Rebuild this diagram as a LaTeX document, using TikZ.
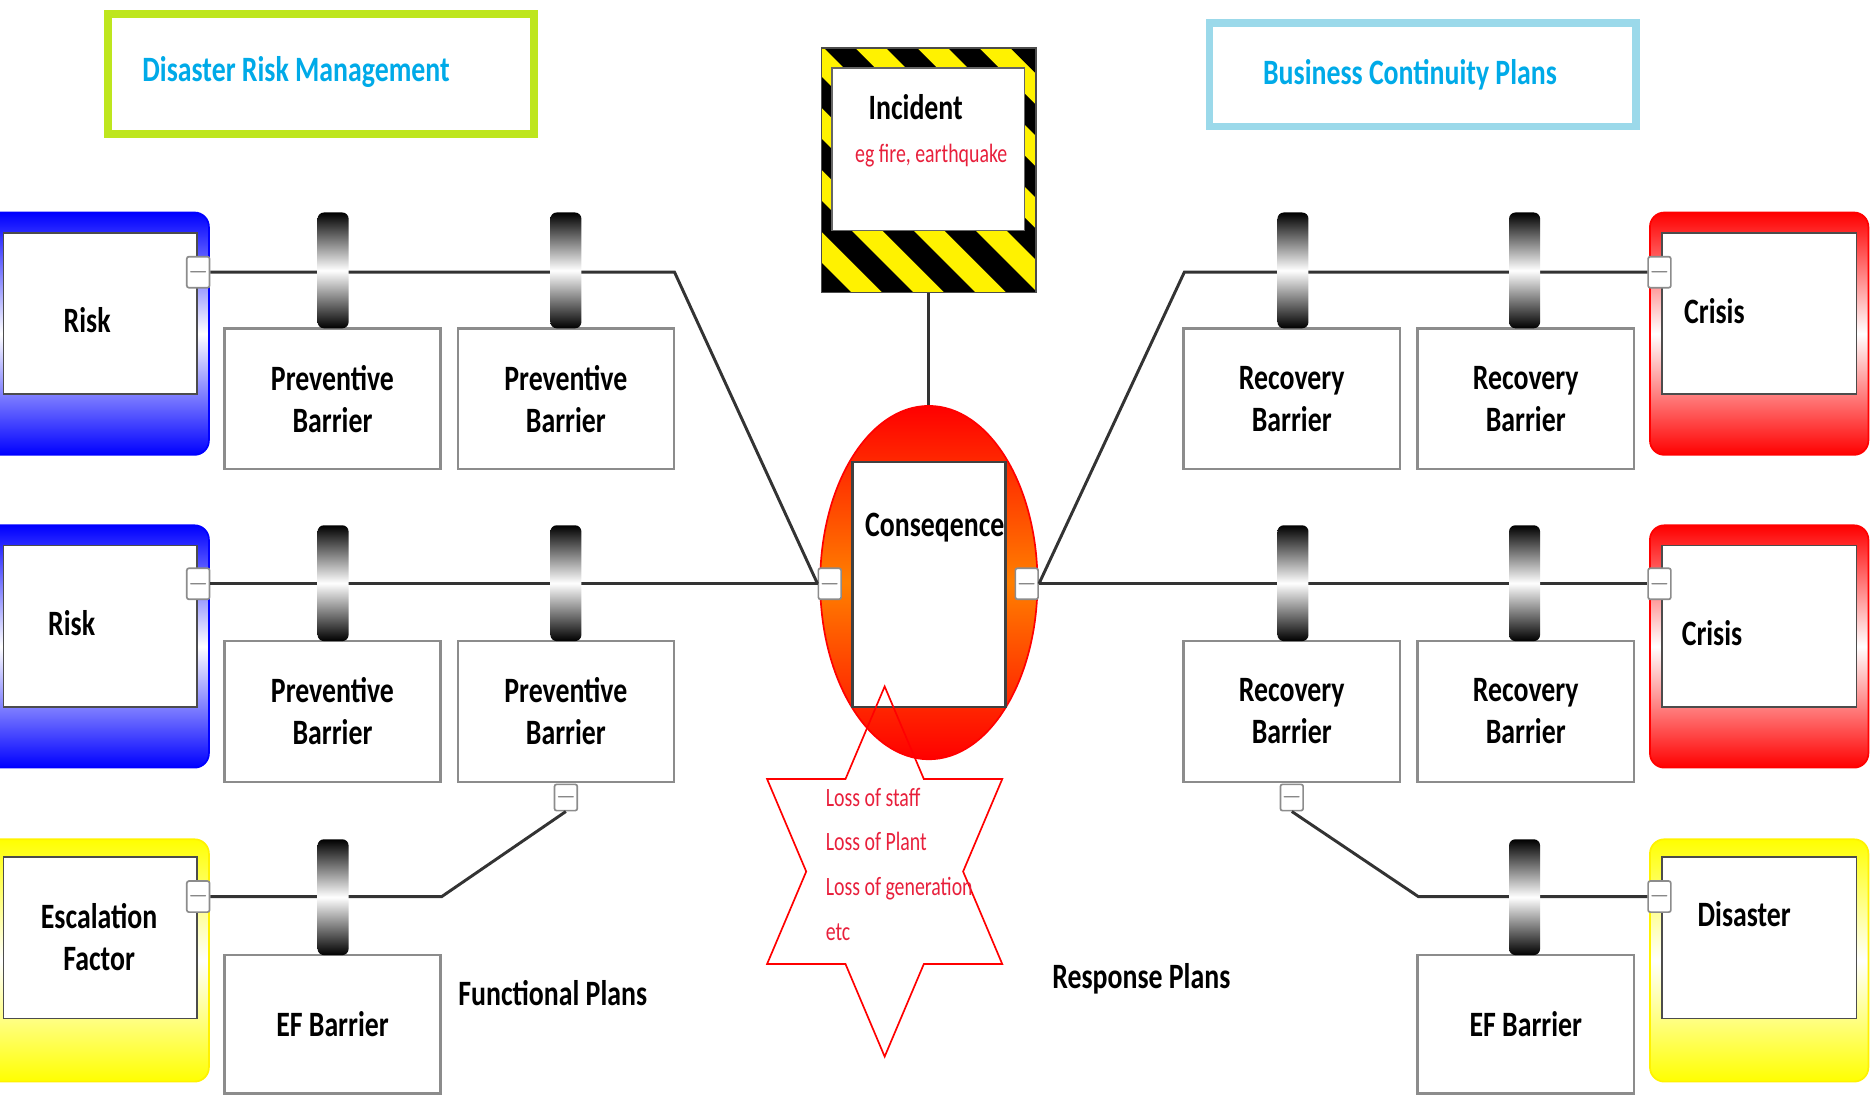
\documentclass[tikz,border=0pt]{standalone}
\usepackage{fontspec}
\setmainfont{Carlito}
\newfontfamily\condfont[FakeStretch=0.78]{Carlito}
\newfontfamily\notefont[FakeStretch=0.75]{Carlito}
\usetikzlibrary{positioning,shapes.geometric}

\definecolor{drmgreen}{RGB}{190,230,30}
\definecolor{bcpblue}{RGB}{155,217,234}
\definecolor{titleblue}{RGB}{0,170,232}
\definecolor{lossred}{RGB}{232,32,60}

\begin{document}
\begin{tikzpicture}[
  x=0.1mm,y=-0.1mm,
  every node/.style={inner sep=0pt},
  lbl/.style={font=\condfont\bfseries\fontsize{8.5}{10}\selectfont,align=center},
  note/.style={font=\notefont\fontsize{6.3}{10.7}\selectfont,text=lossred,align=left},
  titlebox/.style={draw=#1,line width=0.65mm,minimum width=35.7mm},
  eventbox/.style={draw=#1,rounded corners=1.2mm,minimum height=20.3mm,
    top color=#1,bottom color=#1,middle color=white},
  innerbox/.style={draw=black!70,fill=white,line width=0.4pt,minimum height=13.5mm},
  barrierbox/.style={lbl,draw=black!45,fill=white,line width=0.6pt,
    minimum width=18.1mm,minimum height=11.8mm},
  barrier/.style={rounded corners=1.5pt,minimum width=2.6mm,minimum height=9.7mm,
    top color=black,bottom color=black,middle color=white},
  handle/.style={draw=black!45,fill=white,rounded corners=0.5pt,
    minimum width=1.6mm,minimum height=2.6mm,font=\tiny,text=black!55},
  link/.style={draw=black!80,line width=0.7pt},
]
  \useasboundingbox (0,0) rectangle (1568,918);

  % Titles
  \node[titlebox=drmgreen,minimum height=10.1mm] (drm) at (269,62) {};
  \node[lbl,text=titleblue] (drmtxt) at (248,60) {Disaster Risk Management};
  \node[titlebox=bcpblue,minimum height=8.7mm] (bcp) at (1191.5,62.5) {};
  \node[lbl,text=titleblue] (bcptxt) at (1181,63) {Business Continuity Plans};

  % Incident sign
  \begin{scope}
    \clip (688,40) rectangle (868,245);
    \fill[yellow] (688,40) rectangle (868,245);
    \foreach \a in {430,482,...,900}
      \fill[black] (\a,40) -- (\a+26,40) -- (\a+231,245) -- (\a+205,245) -- cycle;
  \end{scope}
  \node[draw=black!70,minimum width=18mm,minimum height=20.5mm] (inc) at (778,142.5) {};
  \node[draw=black!60,fill=white,minimum width=16.1mm,minimum height=13.6mm] (incin) at (777.5,125) {};
  \node[lbl] (inctxt) at (767,90) {Incident};
  \node[note] (incnote) at (780,130) {eg fire, earthquake};

  % Consequence
  \node[ellipse,draw=red,minimum width=18.2mm,minimum height=29.6mm,
    top color=red,bottom color=red,middle color=orange] (cons) at (778,488) {};
  \node[draw=black!75,fill=white,line width=0.6pt,minimum width=12.8mm,
    minimum height=20.5mm] (consin) at (778,489.5) {};
  \node[lbl] (constxt) at (783,442) {Conseqence};
  \draw[link] (inc.south) -- (cons.north);

  % Event boxes
  \node[eventbox=blue,minimum width=18.7mm] (risk1) at (81.5,279.5) {};
  \node[eventbox=blue,minimum width=18.7mm] (risk2) at (81.5,541.5) {};
  \node[eventbox=yellow,minimum width=18.7mm] (esc) at (81.5,804.5) {};
  \node[eventbox=red,minimum width=18.3mm] (crisis1) at (1473.5,279.5) {};
  \node[eventbox=red,minimum width=18.3mm] (crisis2) at (1473.5,541.5) {};
  \node[eventbox=yellow,minimum width=18.3mm] (dis) at (1473.5,804.5) {};
  \node[innerbox,minimum width=16.2mm] (risk1in) at (84,262.5) {};
  \node[innerbox,minimum width=16.2mm] (risk2in) at (84,524.5) {};
  \node[innerbox,minimum width=16.2mm] (escin) at (84,785.5) {};
  \node[innerbox,minimum width=16.3mm] (crisis1in) at (1473.5,262.5) {};
  \node[innerbox,minimum width=16.3mm] (crisis2in) at (1473.5,524.5) {};
  \node[innerbox,minimum width=16.3mm] (disin) at (1473.5,785.5) {};
  \node[lbl] (risk1txt) at (73,268) {Risk};
  \node[lbl] (risk2txt) at (60,522) {Risk};
  \node[lbl] (esctxt) at (83,785) {Escalation\\Factor};
  \node[lbl] (crisis1txt) at (1436,261) {Crisis};
  \node[lbl] (crisis2txt) at (1434,530) {Crisis};
  \node[lbl] (distxt) at (1461,766) {Disaster};

  % Barrier boxes
  \node[barrierbox] (pb11) at (278.5,334) {Preventive\\Barrier};
  \node[barrierbox] (pb12) at (474,334) {Preventive\\Barrier};
  \node[barrierbox] (pb21) at (278.5,596) {Preventive\\Barrier};
  \node[barrierbox] (pb22) at (474,596) {Preventive\\Barrier};
  \node[barrierbox,minimum height=11.6mm] (efl) at (278.5,858) {EF Barrier};
  \node[barrierbox] (rb11) at (1082,334) {Recovery\\Barrier};
  \node[barrierbox] (rb12) at (1278,334) {Recovery\\Barrier};
  \node[barrierbox] (rb21) at (1082,596) {Recovery\\Barrier};
  \node[barrierbox] (rb22) at (1278,596) {Recovery\\Barrier};
  \node[barrierbox,minimum height=11.6mm] (efr) at (1278,858) {EF Barrier};

  % Handles
  \node[handle] (hl1) at (166,228) {$-$};
  \node[handle] (hl2) at (166,489) {$-$};
  \node[handle] (hl3) at (166,751) {$-$};
  \node[handle] (hr1) at (1390,228) {$-$};
  \node[handle] (hr2) at (1390,489) {$-$};
  \node[handle] (hr3) at (1390,751) {$-$};
  \node[handle] (hcl) at (695,489) {$-$};
  \node[handle] (hcr) at (860,489) {$-$};
  \node[handle,minimum height=2.2mm] (hpb22) at (474,668) {$-$};
  \node[handle,minimum height=2.2mm] (hrb21) at (1082,668) {$-$};

  % Threat and recovery lines
  \coordinate (bendl1) at (565,228);
  \coordinate (bendl3) at (370,751);
  \coordinate (bendr1) at (992,228);
  \coordinate (bendr3) at (1188,751);
  \draw[link] (hl1.east) -- (bendl1) -- (hcl.west);
  \draw[link] (hl2.east) -- (hcl.west);
  \draw[link] (hl3.east) -- (bendl3) -- (hpb22.south);
  \draw[link] (hcr.east) -- (bendr1) -- (hr1.west);
  \draw[link] (hcr.east) -- (hr2.west);
  \draw[link] (hrb21.south) -- (bendr3) -- (hr3.west);

  % Barriers
  \node[barrier] (b11) at (279,226.5) {};
  \node[barrier] (b12) at (474,226.5) {};
  \node[barrier] (b21) at (279,488.5) {};
  \node[barrier] (b22) at (474,488.5) {};
  \node[barrier] (b31) at (279,751.5) {};
  \node[barrier] (c11) at (1083,226.5) {};
  \node[barrier] (c12) at (1277,226.5) {};
  \node[barrier] (c21) at (1083,488.5) {};
  \node[barrier] (c22) at (1277,488.5) {};
  \node[barrier] (c31) at (1277,751.5) {};

  % Losses
  \draw[red,line width=0.4pt] (741,575) -- (773.8,652.5) -- (839.5,652.5) -- (806.7,730)
    -- (839.5,807.5) -- (773.8,807.5) -- (741,885) -- (708.2,807.5) -- (642.5,807.5)
    -- (675.3,730) -- (642.5,652.5) -- (708.2,652.5) -- cycle;
  \node[note,anchor=west] (losses) at (691,724)
    {Loss of staff\\Loss of Plant\\Loss of generation\\etc};

  % Plan labels
  \node[lbl] (funct) at (463,832) {Functional Plans};
  \node[lbl] (resp) at (956,820) {Response Plans};
\end{tikzpicture}
\end{document}
